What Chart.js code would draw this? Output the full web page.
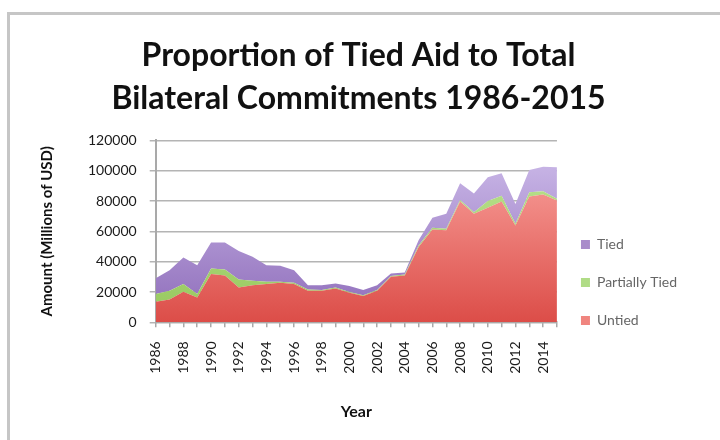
<!DOCTYPE html>
<html>
<head>
<meta charset="utf-8">
<title>Tied Aid</title>
<script src="https://cdn.jsdelivr.net/npm/chart.js@4.4.1/dist/chart.umd.min.js"></script>
<style>
    html, body { margin: 0; padding: 0; background: #fff; }
    #frame {
        position: absolute; left: 7px; top: 12px; width: 720px; height: 440px;
        border-left: 3px solid #c6c6c6; border-top: 3px solid #c6c6c6;
    }
    #wrap { position: absolute; left: 0; top: 0; width: 720px; height: 440px; }
</style>
</head>
<body>
<div id="frame"></div>
<div id="wrap"><canvas id="aidChart" width="720" height="440"></canvas></div>
<script>
// Bilateral commitments by tying status, millions of USD
const years = ['1986', '1987', '1988', '1989', '1990', '1991', '1992', '1993', '1994', '1995',
               '1996', '1997', '1998', '1999', '2000', '2001', '2002', '2003', '2004', '2005',
               '2006', '2007', '2008', '2009', '2010', '2011', '2012', '2013', '2014', '2015'];

const untied = [13600, 15100, 20100, 16400, 31800, 30900, 23000, 24500, 25200, 26100,
                25200, 20800, 20800, 22300, 19500, 17300, 20800, 30000, 30900, 49700,
                61300, 60700, 79700, 71600, 75600, 79700, 63900, 83000, 84300, 80400];

const partiallyTied = [5000, 5700, 5100, 2200, 3700, 3900, 5300, 2900, 1500, 600,
                       900, 900, 500, 700, 500, 500, 500, 600, 700, 1000,
                       1000, 1000, 1000, 1000, 4400, 3800, 1100, 2800, 2200, 1100];

const tied = [10400, 13600, 17500, 19100, 17100, 17800, 18800, 15800, 11000, 10600,
              8300, 2800, 3200, 2600, 3900, 3500, 3200, 1600, 1300, 3400,
              6700, 9900, 11100, 12300, 15700, 14800, 13000, 14700, 16200, 20800];

const yTicks = [0, 20000, 40000, 60000, 80000, 100000, 120000];

const FONT = 'Lato, "Open Sans", sans-serif';
const TEXT = '#1b1b1b';

// vertical fill gradient over the plot area
function vGrad(top, bottom) {
    return (ctx) => {
        const area = ctx.chart.chartArea;
        if (!area) return bottom;
        const g = ctx.chart.ctx.createLinearGradient(0, area.top, 0, area.bottom);
        g.addColorStop(0, top);
        g.addColorStop(1, bottom);
        return g;
    };
}

const legendColors = ['#f0857f', '#b0dc86', '#a98cca'];

new Chart(document.getElementById('aidChart'), {
    type: 'line',
    data: {
        labels: years,
        datasets: [
            { label: 'Untied', data: untied, fill: 'origin', backgroundColor: vGrad('#fcaaa5', '#dc4d48') },
            { label: 'Partially Tied', data: partiallyTied, fill: '-1', backgroundColor: vGrad('#bfe596', '#96c85c') },
            { label: 'Tied', data: tied, fill: '-1', backgroundColor: vGrad('#d0bfec', '#8d6bb9') }
        ].map(d => Object.assign(d, { borderWidth: 0, pointRadius: 0, tension: 0 }))
    },
    options: {
        responsive: false,
        animation: false,
        layout: { padding: { left: 30, right: 33, top: 0, bottom: 19 } },
        plugins: {
            title: {
                display: true,
                text: ['Proportion of Tied Aid to Total', 'Bilateral Commitments 1986-2015'],
                font: { family: FONT, size: 32, weight: 'bold', lineHeight: 1.35 },
                color: '#111',
                padding: { top: 34, bottom: 20 }
            },
            legend: {
                position: 'right',
                reverse: true,
                // empty title only pushes the entries down beside the lower plot
                title: { display: true, text: '', font: { size: 10 }, padding: { top: 132, bottom: 0 } },
                labels: {
                    font: { family: FONT, size: 14 },
                    color: TEXT,
                    boxWidth: 9,
                    boxHeight: 9,
                    padding: 24,
                    generateLabels: (chart) => chart.data.datasets.map((d, i) => ({
                        text: d.label,
                        fillStyle: legendColors[i],
                        strokeStyle: legendColors[i],
                        lineWidth: 0,
                        datasetIndex: i
                    }))
                }
            },
            tooltip: { enabled: false }
        },
        scales: {
            x: {
                offset: false,
                grid: { drawOnChartArea: false, drawTicks: true, tickLength: 5, color: '#a9a9a9', lineWidth: 1.5 },
                border: { display: true, color: '#a9a9a9', width: 2 },
                ticks: {
                    autoSkip: false,
                    maxRotation: 90,
                    minRotation: 90,
                    padding: 14,
                    color: TEXT,
                    font: { family: FONT, size: 14 },
                    callback: (v, i) => (i % 2 === 0 ? years[i] : '')
                },
                title: {
                    display: true,
                    text: 'Year',
                    color: '#111',
                    font: { family: FONT, size: 16, weight: 'bold' },
                    padding: { top: 14, bottom: 0 }
                }
            },
            y: {
                stacked: true,
                min: 0,
                max: 120000,
                afterBuildTicks: (axis) => { axis.ticks = yTicks.map(v => ({ value: v })); },
                grid: { color: '#b4b4b4', lineWidth: 1.5, tickLength: 6 },
                border: { display: true, color: '#a9a9a9', width: 2 },
                ticks: {
                    padding: 13,
                    color: TEXT,
                    font: { family: FONT, size: 14 },
                    callback: (v) => String(v)
                },
                title: {
                    display: true,
                    text: 'Amount (Millions of USD)',
                    color: '#111',
                    font: { family: FONT, size: 15, weight: 'bold' },
                    padding: { top: 8, bottom: 19 }
                }
            }
        }
    }
});
</script>
</body>
</html>
